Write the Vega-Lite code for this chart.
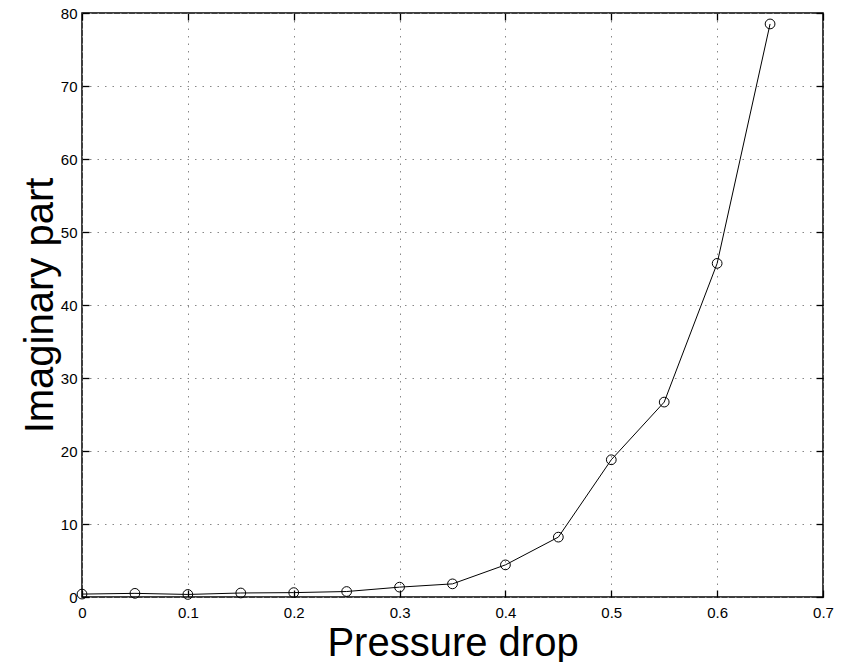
{
  "$schema": "https://vega.github.io/schema/vega-lite/v6.json",
  "width": 741,
  "height": 584,
  "autosize": {"type": "none"},
  "padding": {"left": 82, "top": 13, "right": 18, "bottom": 65},
  "background": "white",
  "config": {
    "view": {"stroke": "black", "strokeWidth": 1.5},
    "font": "Liberation Sans",
    "axis": {"labelFont": "Liberation Sans", "titleFont": "Liberation Sans", "labelColor": "black", "titleColor": "black", "domain": false, "tickColor": "black", "tickSize": -7, "tickWidth": 1.3, "labelFontSize": 15, "titleFontSize": 40, "titleFontWeight": "normal"}
  },
  "data": {"values": [
    {"p": 0.00, "v": 0.40},
    {"p": 0.05, "v": 0.50},
    {"p": 0.10, "v": 0.35},
    {"p": 0.15, "v": 0.55},
    {"p": 0.20, "v": 0.60},
    {"p": 0.25, "v": 0.75},
    {"p": 0.30, "v": 1.35},
    {"p": 0.35, "v": 1.80},
    {"p": 0.40, "v": 4.40},
    {"p": 0.45, "v": 8.20},
    {"p": 0.50, "v": 18.8},
    {"p": 0.55, "v": 26.7},
    {"p": 0.60, "v": 45.7},
    {"p": 0.65, "v": 78.5}
  ]},
  "layer": [
    {
      "mark": {"type": "line", "color": "black", "strokeWidth": 1},
      "encoding": {
        "x": {"field": "p", "type": "quantitative", "scale": {"domain": [0, 0.7], "nice": false, "zero": false},
          "axis": {"title": "Pressure drop", "values": [0, 0.1, 0.2, 0.3, 0.4, 0.5, 0.6, 0.7], "format": "~g", "labelPadding": 15, "titlePadding": 3, "grid": true, "gridColor": "#888", "gridDash": [1.5, 6], "gridWidth": 1, "labelFlush": false}},
        "y": {"field": "v", "type": "quantitative", "scale": {"domain": [0, 80], "nice": false},
          "axis": {"title": "Imaginary part", "values": [0, 10, 20, 30, 40, 50, 60, 70, 80], "labelPadding": 12, "titlePadding": 0, "grid": true, "gridColor": "#888", "gridDash": [1.5, 6], "gridWidth": 1, "labelFlush": false}}
      }
    },
    {
      "mark": {"type": "point", "shape": "circle", "filled": false, "color": "black", "strokeWidth": 1, "size": 95, "opacity": 1},
      "encoding": {
        "x": {"field": "p", "type": "quantitative", "axis": {"orient": "top", "labels": false, "title": null, "values": [0, 0.1, 0.2, 0.3, 0.4, 0.5, 0.6, 0.7], "grid": false}},
        "y": {"field": "v", "type": "quantitative", "axis": {"orient": "right", "labels": false, "title": null, "values": [0, 10, 20, 30, 40, 50, 60, 70, 80], "grid": false}}
      }
    }
  ],
  "resolve": {"axis": {"x": "independent", "y": "independent"}}
}
